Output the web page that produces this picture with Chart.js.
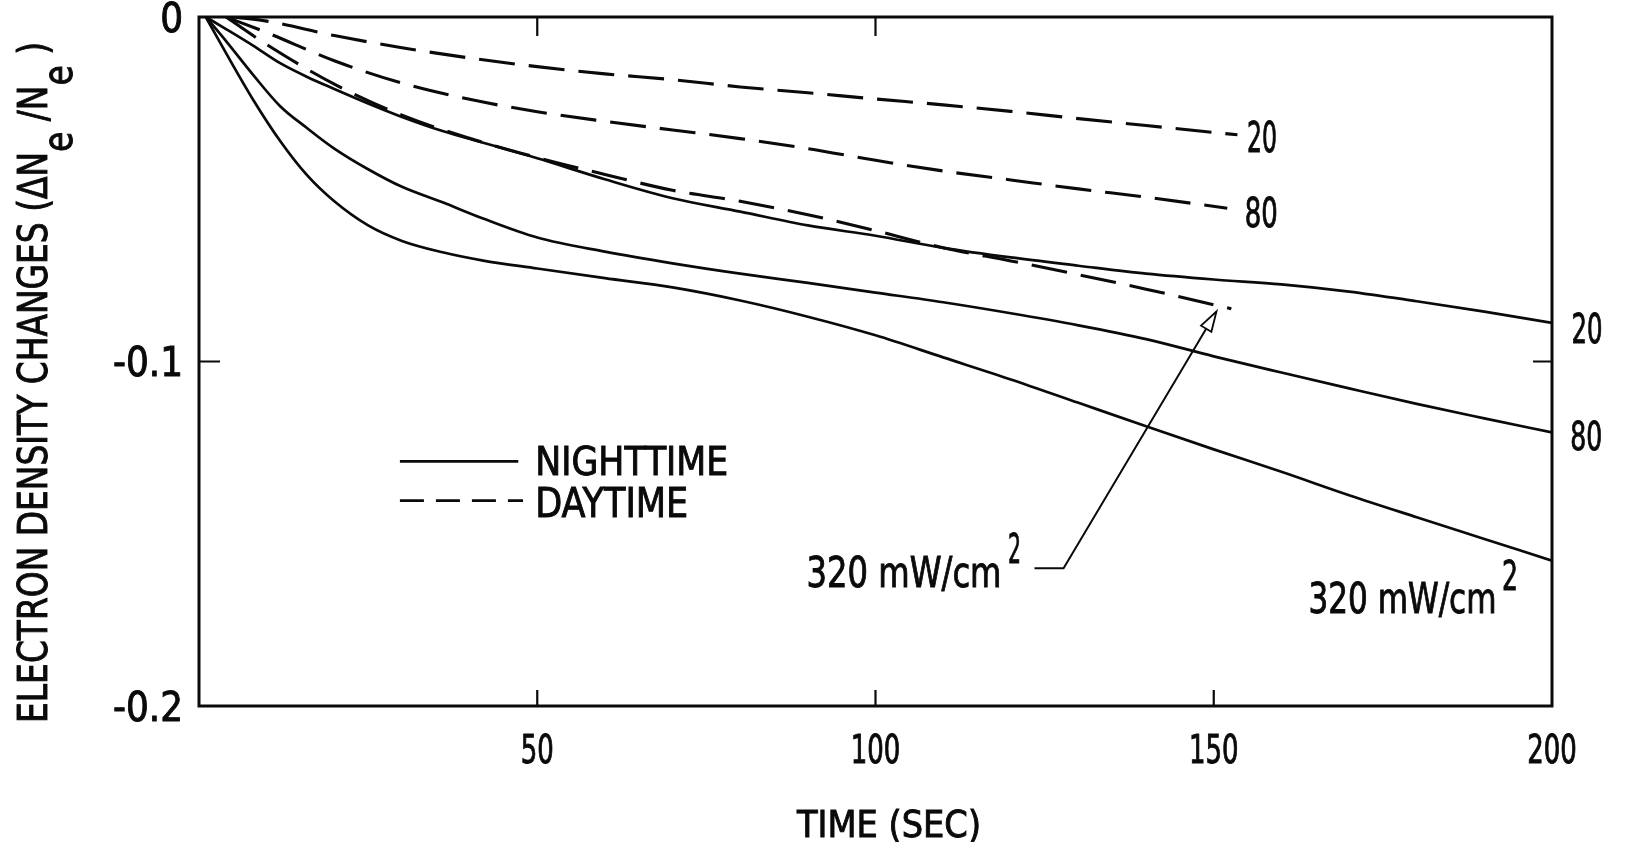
<!DOCTYPE html>
<html>
<head>
<meta charset="utf-8">
<script src="https://cdn.jsdelivr.net/npm/chart.js@4/dist/chart.umd.min.js"></script>
<style>
html,body{margin:0;padding:0;background:#fff;}
canvas{display:block;}
</style>
</head>
<body>
<canvas id="c" width="1627" height="842"></canvas>
<script>
// ---------------- data ----------------
const xTickValues = [50, 100, 150, 200];
const xTickLabels = ['50', '100', '150', '200'];
const yTickValues = [0, -0.1, -0.2];
const yTickLabels = ['0', '-0.1', '-0.2'];
const bottomTickMarks = [50, 100, 150];
const topTickMarks = [50, 100];
const sideTickMarks = [-0.1];

// Nighttime (solid) curves, time in seconds
const nightTime = [1, 4, 8, 12, 16, 20, 25, 30, 36, 42, 50, 60, 70, 80, 90, 100, 110, 120, 130, 140, 150, 160, 170, 180, 190, 200];
const night20  = [0, -0.0035, -0.0083, -0.0134, -0.0174, -0.0209, -0.0251, -0.0290, -0.0331, -0.0365, -0.0410, -0.0471, -0.0526, -0.0565, -0.0605, -0.0635, -0.0670, -0.0698, -0.0722, -0.0745, -0.0762, -0.0776, -0.0797, -0.0825, -0.0855, -0.0888];
const night80  = [0, -0.0070, -0.0168, -0.0259, -0.0323, -0.0382, -0.0442, -0.0493, -0.0538, -0.0585, -0.0640, -0.0681, -0.0715, -0.0745, -0.0772, -0.0800, -0.0828, -0.0860, -0.0895, -0.0935, -0.0985, -0.1032, -0.1078, -0.1123, -0.1165, -0.1206];
const night320 = [0, -0.0105, -0.0240, -0.0360, -0.0460, -0.0535, -0.0605, -0.0650, -0.0683, -0.0707, -0.0730, -0.0758, -0.0785, -0.0823, -0.0870, -0.0924, -0.0988, -0.1052, -0.1120, -0.1188, -0.1255, -0.1320, -0.1388, -0.1452, -0.1515, -0.1578];

// Daytime (dashed) curves
const day20Time  = [5, 10, 20, 30, 40, 50, 60, 70, 80, 90, 100, 110, 120, 130, 140, 153.5];
const day20      = [0, -0.0012, -0.0054, -0.0089, -0.0119, -0.0144, -0.0165, -0.0182, -0.0203, -0.0220, -0.0238, -0.0255, -0.0274, -0.0295, -0.0315, -0.0342];
const day80Time  = [4, 10, 20, 30, 40, 50, 60, 70, 80, 90, 100, 110, 120, 130, 140, 152];
const day80      = [0, -0.0045, -0.0127, -0.0192, -0.0239, -0.0275, -0.0303, -0.0328, -0.0353, -0.0382, -0.0416, -0.0447, -0.0473, -0.0499, -0.0523, -0.0555];
const day320Time = [4, 10, 20, 30, 40, 50, 60, 70, 80, 90, 100, 110, 120, 130, 140, 152.6];
const day320     = [0, -0.0080, -0.0195, -0.0285, -0.0352, -0.0408, -0.0457, -0.0503, -0.0535, -0.0574, -0.0620, -0.0670, -0.0708, -0.0748, -0.0790, -0.0847];

// ---------------- helpers ----------------
const FONT = "'Liberation Sans Narrow','DejaVu Sans Condensed','Liberation Sans',Arial,sans-serif";
const INK = '#0a0a0a';
function pts(xs, ys) { return xs.map((x, i) => ({x: x, y: ys[i]})); }
function setFont(ctx, capH) { ctx.font = (capH / 0.72).toFixed(1) + 'px ' + FONT; }
function fitText(ctx, text, x, base, capH, width, align) {
  setFont(ctx, capH);
  const w = ctx.measureText(text).width;
  const sx = width ? width / w : 1;
  ctx.save();
  ctx.translate(x, base);
  ctx.scale(sx, 1);
  ctx.textAlign = align || 'left';
  ctx.textBaseline = 'alphabetic';
  ctx.lineWidth = 0.9;
  ctx.fillText(text, 0, 0);
  ctx.strokeText(text, 0, 0);
  ctx.restore();
  return w * sx;
}

function lineDs(label, xs, ys, dashed) {
  return {
    label: label,
    data: pts(xs, ys),
    borderColor: INK,
    borderWidth: dashed ? 3.1 : 2.7,
    borderDash: dashed ? [36, 14] : [],
    pointRadius: 0,
    fill: false,
    cubicInterpolationMode: 'monotone'
  };
}

const decor = {
  id: 'decor',
  afterDatasetsDraw(chart) {
    const ctx = chart.ctx;
    const a = chart.chartArea;
    const xs = chart.scales.x, ys = chart.scales.y;
    const X = v => xs.getPixelForValue(v), Y = v => ys.getPixelForValue(v);
    ctx.save();
    ctx.strokeStyle = INK; ctx.fillStyle = INK;
    ctx.setLineDash([]);
    // frame
    ctx.lineWidth = 3;
    ctx.strokeRect(a.left, a.top, a.right - a.left, a.bottom - a.top);
    // inner tick marks
    ctx.lineWidth = 2.2;
    ctx.beginPath();
    bottomTickMarks.forEach(v => { ctx.moveTo(X(v), a.bottom); ctx.lineTo(X(v), a.bottom - 16); });
    topTickMarks.forEach(v => { ctx.moveTo(X(v), a.top); ctx.lineTo(X(v), a.top + 19); });
    sideTickMarks.forEach(v => {
      ctx.moveTo(a.left, Y(v)); ctx.lineTo(a.left + 21, Y(v));
      ctx.moveTo(a.right, Y(v)); ctx.lineTo(a.right - 19, Y(v));
    });
    ctx.stroke();

    // x tick labels
    setFont(ctx, 28);
    const sxX = 33 / ctx.measureText('50').width;
    xTickValues.forEach((v, i) => {
      setFont(ctx, 28);
      const w = ctx.measureText(xTickLabels[i]).width * sxX;
      fitText(ctx, xTickLabels[i], X(v), a.bottom + 57, 28, w, 'center');
    });
    // y tick labels
    setFont(ctx, 29);
    const sxY = 70 / ctx.measureText('-0.1').width;
    yTickValues.forEach((v, i) => {
      setFont(ctx, 29);
      const w = ctx.measureText(yTickLabels[i]).width * sxY;
      fitText(ctx, yTickLabels[i], a.left - 16, Y(v) + 14.5, 29, w, 'right');
    });

    // x axis title
    fitText(ctx, 'TIME (SEC)', X(102), 837, 27, 184, 'center');

    // y axis title (rotated, with subscripts)
    ctx.save();
    ctx.translate(47, 723);
    ctx.rotate(-Math.PI / 2);
    setFont(ctx, 30);
    const parts = [['ELECTRON DENSITY CHANGES (\u0394N', 0], ['e', 25], [' /N', 0], ['e', 25], [' )', 0]];
    let tot = 0; parts.forEach(p => { tot += ctx.measureText(p[0]).width; });
    ctx.scale(681 / tot, 1);
    ctx.textBaseline = 'alphabetic'; ctx.textAlign = 'left';
    ctx.lineWidth = 0.9;
    let cx = 0;
    parts.forEach(p => { ctx.fillText(p[0], cx, p[1]); ctx.strokeText(p[0], cx, p[1]); cx += ctx.measureText(p[0]).width; });
    ctx.restore();

    // legend
    ctx.lineWidth = 2.8;
    ctx.beginPath(); ctx.moveTo(X(29.7), Y(-0.129)); ctx.lineTo(X(47.2), Y(-0.129)); ctx.stroke();
    ctx.setLineDash([24, 12]);
    ctx.beginPath(); ctx.moveTo(X(29.7), Y(-0.1404)); ctx.lineTo(X(47.9), Y(-0.1404)); ctx.stroke();
    ctx.setLineDash([]);
    fitText(ctx, 'NIGHTTIME', X(49.7), Y(-0.133), 28.5, 193);
    fitText(ctx, 'DAYTIME', X(49.7), Y(-0.1451), 29.5, 153);

    // curve labels
    fitText(ctx, '20', X(154.9), Y(-0.0391), 31, 30);
    fitText(ctx, '80', X(154.6), Y(-0.0609), 30, 33);
    fitText(ctx, '20', X(202.9), Y(-0.0946), 30, 31);
    fitText(ctx, '80', X(202.7), Y(-0.1257), 28.5, 32);

    // 320 mW/cm2 labels
    fitText(ctx, '320 mW/cm', X(89.8), Y(-0.1654), 31, 195);
    fitText(ctx, '2', X(119.6), Y(-0.1585), 29, 13);
    fitText(ctx, '320 mW/cm', X(164.0), Y(-0.1729), 31, 188);
    fitText(ctx, '2', X(192.6), Y(-0.1663), 30, 16);

    // leader + arrow to daytime 320 curve
    const p0 = {x: X(123.5), y: Y(-0.160)};
    const p1 = {x: X(127.8), y: Y(-0.160)};
    const tip = {x: X(150.4), y: Y(-0.0855)};
    ctx.lineWidth = 2;
    ctx.beginPath(); ctx.moveTo(p0.x, p0.y); ctx.lineTo(p1.x, p1.y); ctx.lineTo(tip.x, tip.y); ctx.stroke();
    const dx = tip.x - p1.x, dy = tip.y - p1.y, L = Math.hypot(dx, dy);
    const ux = dx / L, uy = dy / L, hl = 20, hw = 6;
    const bx = tip.x - ux * hl, by = tip.y - uy * hl;
    ctx.beginPath();
    ctx.moveTo(tip.x, tip.y);
    ctx.lineTo(bx - uy * hw, by + ux * hw);
    ctx.lineTo(bx + uy * hw, by - ux * hw);
    ctx.closePath();
    ctx.fillStyle = '#fff'; ctx.fill();
    ctx.lineWidth = 1.8; ctx.stroke();
    ctx.restore();
  }
};

new Chart(document.getElementById('c').getContext('2d'), {
  type: 'line',
  data: {
    datasets: [
      lineDs('Nighttime 20 mW/cm\u00b2', nightTime, night20, false),
      lineDs('Nighttime 80 mW/cm\u00b2', nightTime, night80, false),
      lineDs('Nighttime 320 mW/cm\u00b2', nightTime, night320, false),
      lineDs('Daytime 20 mW/cm\u00b2', day20Time, day20, true),
      lineDs('Daytime 80 mW/cm\u00b2', day80Time, day80, true),
      lineDs('Daytime 320 mW/cm\u00b2', day320Time, day320, true)
    ]
  },
  options: {
    responsive: false,
    animation: false,
    devicePixelRatio: 1,
    layout: {padding: {left: 199, right: 75, top: 17, bottom: 136}},
    plugins: {legend: {display: false}, tooltip: {enabled: false}},
    scales: {
      x: {
        type: 'linear', min: 0, max: 200,
        ticks: {display: false}, grid: {display: false}, border: {display: false},
        afterBuildTicks: s => { s.ticks = xTickValues.map(v => ({value: v})); },
        afterFit: s => { s.height = 0; }
      },
      y: {
        type: 'linear', min: -0.2, max: 0,
        ticks: {display: false}, grid: {display: false}, border: {display: false},
        afterBuildTicks: s => { s.ticks = yTickValues.map(v => ({value: v})); },
        afterFit: s => { s.width = 0; }
      }
    }
  },
  plugins: [decor]
});
</script>
</body>
</html>
